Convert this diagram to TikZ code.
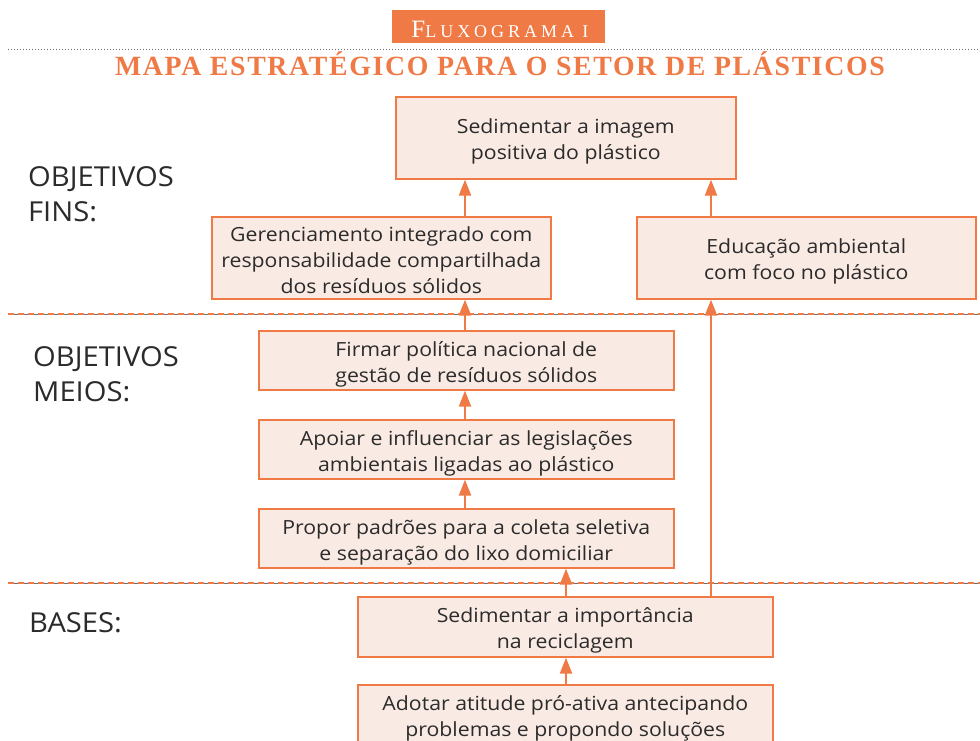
\documentclass[tikz,border=0pt]{standalone}
\usepackage{fontspec}
\setmainfont[FakeStretch=1.09]{Open Sans}
\newfontfamily\lblfont[FakeStretch=1.06]{Open Sans}
\newfontfamily\titlefont[LetterSpace=6]{Liberation Serif}
\newfontfamily\headfont[LetterSpace=22]{Liberation Serif}
\usetikzlibrary{arrows.meta}
\definecolor{org}{HTML}{F07A45}
\definecolor{pinkf}{HTML}{FAEAE4}
\definecolor{txt}{HTML}{2B2B2B}
\definecolor{lgray}{HTML}{707070}
\newcommand\myTopStrut{\rule{0pt}{23pt}}
\newcommand\myTopStrutB{\rule{0pt}{19pt}}
\begin{document}
\begin{tikzpicture}[x=1pt,y=-1pt,
  box/.style={draw=org, line width=1.6pt, fill=pinkf, text=txt,
    font=\fontsize{19.5}{26}\selectfont, align=center, inner sep=0pt, anchor=north west},
  arr/.style={draw=org, line width=2pt, -{Triangle[length=16pt,width=12pt]}, fill=org},
  lbl/.style={text=txt, font=\lblfont\fontsize{27.5}{35}\selectfont, align=left, anchor=north west, inner sep=0pt},
  sep/.style={draw=lgray, line width=0.8pt},
  sepd/.style={draw=org, line width=1.6pt, dash pattern=on 6pt off 4pt}]
\useasboundingbox (0,0) rectangle (980,740);
\clip (0,0) rectangle (980,740);
\fill[white] (0,0) rectangle (980,740);

% header
\node[fill=org, minimum width=213pt, minimum height=33pt, inner sep=0pt, anchor=north west] (hb) at (392,10) {};
\node[text=white, anchor=base, inner sep=0pt] (ht) at (500,37) {\headfont\fontsize{25}{25}\selectfont F\fontsize{18}{18}\selectfont LUXOGRAMA I};
\coordinate (dl) at (8,49);
\coordinate (dr) at (980,49);
\draw[draw=lgray, line width=0.9pt, dash pattern=on 1pt off 2pt] (dl) -- (dr);
\node[text=org, anchor=base, inner sep=0pt] (title) at (500,75) {\titlefont\bfseries\fontsize{27.8}{27.8}\selectfont MAPA ESTRATÉGICO PARA O SETOR DE PLÁSTICOS};

% separators
\coordinate (l1) at (8,314); \coordinate (r1) at (980,314);
\coordinate (l2) at (8,583); \coordinate (r2) at (980,583);
\draw[sep] (l1) -- (r1); \draw[sepd] (l1) -- (r1);
\draw[sep] (l2) -- (r2); \draw[sepd] (l2) -- (r2);

% labels
\node[lbl] (lf) at (28,166) {OBJETIVOS\\FINS:};
\node[lbl] (lm) at (33,346) {OBJETIVOS\\MEIOS:};
\node[lbl] (lb) at (29,612) {BASES:};

% boxes
\node[box, minimum width=340pt, minimum height=82pt] (s1) at (395,96) {\myTopStrut Sedimentar a imagem\\positiva do plástico};
\node[box, minimum width=339pt, minimum height=82pt] (g) at (211,216) {\myTopStrutB Gerenciamento integrado com\\responsabilidade compartilhada\\dos resíduos sólidos};
\node[box, minimum width=339pt, minimum height=82pt] (e) at (636,216) {\myTopStrut Educação ambiental\\com foco no plástico};
\node[box, minimum width=415pt, minimum height=59pt] (f) at (258,330) {\myTopStrut Firmar política nacional de\\gestão de resíduos sólidos};
\node[box, minimum width=415pt, minimum height=59pt] (a) at (258,419) {\myTopStrut Apoiar e influenciar as legislações\\ambientais ligadas ao plástico};
\node[box, minimum width=415pt, minimum height=59pt] (p) at (258,508) {\myTopStrut Propor padrões para a coleta seletiva\\e separação do lixo domiciliar};
\node[box, minimum width=415pt, minimum height=60pt] (si) at (357,596) {\myTopStrut Sedimentar a importância\\na reciclagem};
\node[box, minimum width=415pt, minimum height=60pt] (ad) at (357,684) {\myTopStrut Adotar atitude pró-ativa antecipando\\problemas e propondo soluções};

% arrow columns
\coordinate (xa) at (465,0);
\coordinate (xb) at (711,0);
\coordinate (xc) at (566,0);

\draw[arr] (g.north -| xa) -- (s1.south -| xa);
\draw[arr] (e.north -| xb) -- (s1.south -| xb);
\draw[arr] (f.north -| xa) -- (g.south -| xa);
\draw[arr] (a.north -| xa) -- (f.south -| xa);
\draw[arr] (p.north -| xa) -- (a.south -| xa);
\draw[arr] (si.north -| xc) -- (p.south -| xc);
\draw[arr] (ad.north -| xc) -- (si.south -| xc);
\draw[arr] (si.north -| xb) -- (e.south -| xb);
\end{tikzpicture}
\end{document}
